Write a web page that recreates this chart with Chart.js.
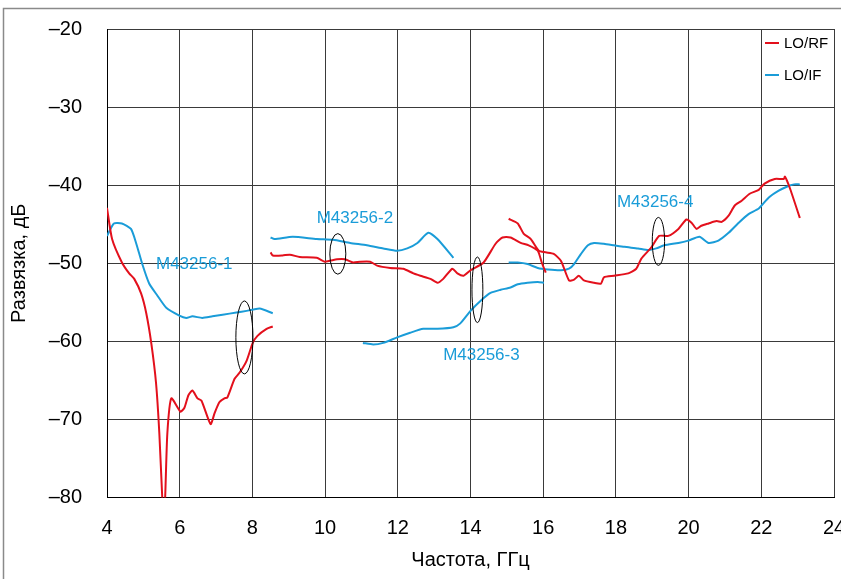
<!DOCTYPE html>
<html>
<head>
<meta charset="utf-8">
<script src="https://cdn.jsdelivr.net/npm/chart.js@4.4.0/dist/chart.umd.min.js"></script>
<style>
  html, body { margin: 0; padding: 0; background: #fff; }
</style>
</head>
<body>
<canvas id="c" width="841" height="579"></canvas>
<script>
// values
const RED = '#e3101c';
const BLUE = '#1a9cd8';

const xTicks = [4, 6, 8, 10, 12, 14, 16, 18, 20, 22, 24];
const yTicks = [-80, -70, -60, -50, -40, -30, -20];

// LO/RF, three pieces
const rf1X = [4.0, 4.14, 4.41, 4.61, 4.75, 4.94, 5.08, 5.22, 5.35, 5.44, 5.52, 5.56, 5.60, 5.66, 5.77, 6.02, 6.13, 6.24, 6.35, 6.49, 6.60, 6.85, 6.96, 7.09, 7.23, 7.31, 7.51, 7.65, 7.84, 8.01, 8.14, 8.39, 8.56];
const rf1Y = [-42.9, -46.9, -49.9, -51.3, -52.0, -53.9, -56.4, -60.3, -65.4, -71.8, -80, -83, -80, -71.8, -67.3, -69.0, -68.5, -66.9, -66.3, -67.3, -67.6, -70.6, -69.2, -67.8, -67.3, -67.2, -64.8, -64.0, -62.5, -60.2, -59.3, -58.4, -58.1];
const rf2X = [8.50, 8.56, 8.83, 9.03, 9.30, 9.77, 9.99, 10.33, 10.55, 10.77, 10.96, 11.24, 11.43, 11.79, 12.15, 12.43, 12.62, 12.90, 13.09, 13.25, 13.50, 13.64, 13.81, 14.0, 14.36, 14.69, 14.88, 15.10, 15.38, 15.60, 15.85, 15.96, 16.07];
const rf2Y = [-48.6, -49.0, -49.0, -48.9, -49.2, -49.3, -49.8, -49.5, -49.5, -49.9, -49.8, -49.8, -50.3, -50.6, -50.7, -51.3, -51.6, -52.0, -52.5, -52.0, -50.7, -51.3, -51.6, -50.9, -49.9, -47.5, -46.7, -46.7, -47.4, -47.7, -48.4, -49.9, -51.2];
const rf3X = [15.05, 15.30, 15.46, 15.66, 15.88, 16.07, 16.29, 16.49, 16.71, 16.85, 16.98, 17.12, 17.40, 17.59, 17.67, 17.95, 18.34, 18.56, 18.70, 18.97, 19.19, 19.44, 19.72, 19.94, 20.08, 20.22, 20.35, 20.55, 20.77, 20.91, 21.10, 21.27, 21.46, 21.68, 21.93, 22.09, 22.37, 22.62, 22.65, 22.78, 23.06];
const rf3Y = [-44.3, -44.9, -46.2, -46.9, -48.4, -48.6, -48.8, -49.7, -52.2, -52.1, -51.6, -52.2, -52.5, -52.6, -51.8, -51.6, -51.3, -50.7, -49.4, -48.0, -46.5, -46.5, -45.6, -44.4, -44.8, -45.6, -45.2, -44.9, -44.6, -44.7, -43.9, -42.6, -42.0, -41.1, -40.6, -39.8, -39.2, -39.2, -38.9, -40.3, -44.2];

// LO/IF, four pieces
const if1X = [4.0, 4.19, 4.41, 4.66, 4.80, 4.97, 5.16, 5.38, 5.63, 5.99, 6.18, 6.35, 6.62, 6.90, 7.18, 7.56, 7.84, 8.20, 8.56];
const if1Y = [-46.5, -44.9, -44.9, -45.6, -47.4, -50.1, -52.6, -54.1, -55.7, -56.7, -57.0, -56.8, -57.0, -56.8, -56.6, -56.3, -56.1, -55.8, -56.4];
const if2X = [8.50, 8.61, 9.11, 9.77, 10.22, 10.69, 11.15, 11.60, 11.98, 12.26, 12.54, 12.84, 13.09, 13.53];
const if2Y = [-46.7, -46.9, -46.6, -46.9, -47.0, -47.4, -47.7, -48.1, -48.4, -48.1, -47.4, -46.1, -46.9, -49.3];
const if3X = [11.04, 11.32, 11.60, 11.98, 12.34, 12.70, 13.09, 13.53, 13.72, 14.0, 14.28, 14.55, 14.83, 15.10, 15.30, 15.57, 15.85, 16.02];
const if3Y = [-60.2, -60.4, -60.2, -59.5, -58.9, -58.4, -58.4, -58.2, -57.7, -56.1, -54.8, -53.8, -53.4, -53.1, -52.7, -52.5, -52.4, -52.5];
const if4X = [15.05, 15.30, 15.57, 15.85, 16.13, 16.49, 16.71, 16.85, 17.04, 17.23, 17.40, 17.67, 17.95, 18.23, 18.61, 18.89, 19.11, 19.33, 19.72, 19.99, 20.30, 20.55, 20.82, 21.10, 21.38, 21.65, 21.93, 22.20, 22.48, 22.70, 22.90, 23.06];
const if4Y = [-49.9, -49.9, -50.1, -50.6, -50.8, -50.9, -50.7, -50.1, -48.8, -47.7, -47.4, -47.5, -47.7, -47.9, -48.1, -48.3, -48.1, -47.7, -47.4, -47.1, -46.6, -47.4, -47.1, -46.1, -44.8, -43.7, -43.0, -41.6, -40.7, -40.2, -39.9, -39.9];

// notes and ellipses (data units)
const noteText = ['M43256-1', 'M43256-2', 'M43256-3', 'M43256-4'];
const noteX = [6.40, 10.82, 14.30, 19.08];
const noteY = [-50.2, -44.3, -61.8, -42.25];
const ellX = [7.78, 10.35, 14.19, 19.17];
const ellY = [-59.5, -48.8, -53.4, -47.2];
const ellRx = [0.235, 0.22, 0.15, 0.17];
const ellRy = [4.67, 2.6, 4.2, 3.07];

function joinPieces(xs, ys) {
  var pts = [];
  for (var i = 0; i < xs.length; i++) {
    if (i > 0) pts.push({x: xs[i][0], y: null});
    for (var j = 0; j < xs[i].length; j++)
      pts.push({x: xs[i][j], y: ys[i][j]});
  }
  return pts;
}

const FONT = 'Liberation Sans, Arial, sans-serif';

const framePlugin = {
  id: 'frame',
  beforeDraw(chart) {
    var c = chart.ctx;
    c.save();
    c.fillStyle = '#fff';
    c.fillRect(0, 0, chart.width, chart.height);
    c.strokeStyle = '#8a8a8a';
    c.lineWidth = 1.5;
    c.strokeRect(3.5, 8.5, chart.width + 20, chart.height + 20);
    c.restore();
  }
};

const notesPlugin = {
  id: 'notes',
  afterDatasetsDraw(chart) {
    var c = chart.ctx, xs = chart.scales.x, ys = chart.scales.y;
    c.save();
    // ellipses
    c.strokeStyle = '#000';
    c.lineWidth = 1;
    for (var i = 0; i < ellX.length; i++) {
      var cx = xs.getPixelForValue(ellX[i]), cy = ys.getPixelForValue(ellY[i]);
      var rx = Math.abs(xs.getPixelForValue(ellX[i] + ellRx[i]) - cx);
      var ry = Math.abs(ys.getPixelForValue(ellY[i] + ellRy[i]) - cy);
      c.beginPath();
      c.ellipse(cx, cy, rx, ry, 0, 0, Math.PI * 2);
      c.stroke();
    }
    // labels
    c.fillStyle = BLUE;
    c.font = '17px ' + FONT;
    c.textAlign = 'center';
    c.textBaseline = 'middle';
    for (var k = 0; k < noteText.length; k++)
      c.fillText(noteText[k], xs.getPixelForValue(noteX[k]), ys.getPixelForValue(noteY[k]));
    // legend in the top right cell
    var ly = [43, 75];
    c.font = '15px ' + FONT;
    c.textAlign = 'left';
    chart.data.datasets.forEach(function(ds, n) {
      c.strokeStyle = ds.borderColor;
      c.lineWidth = 2;
      c.beginPath();
      c.moveTo(765, ly[n]);
      c.lineTo(779, ly[n]);
      c.stroke();
      c.fillStyle = '#000';
      c.fillText(ds.label, 784, ly[n] + 1);
    });
    c.restore();
  }
};

var ctx = document.getElementById('c').getContext('2d');
var myChart = new Chart(ctx, {
  type: 'line',
  data: {
    datasets: [
      {
        label: 'LO/RF',
        data: joinPieces([rf1X, rf2X, rf3X], [rf1Y, rf2Y, rf3Y]),
        borderColor: RED, borderWidth: 2, pointRadius: 0, tension: 0.2, spanGaps: false, clip: 0
      },
      {
        label: 'LO/IF',
        data: joinPieces([if1X, if2X, if3X, if4X], [if1Y, if2Y, if3Y, if4Y]),
        borderColor: BLUE, borderWidth: 2, pointRadius: 0, tension: 0.2, spanGaps: false, clip: 0
      }
    ]
  },
  options: {
    responsive: false,
    animation: false,
    layout: { padding: { left: 0, right: 7, top: 29, bottom: 0 } },
    plugins: { legend: { display: false }, tooltip: { enabled: false } },
    scales: {
      x: {
        type: 'linear', min: 4, max: 24,
        afterBuildTicks: function(s) { s.ticks = xTicks.map(function(v) { return {value: v}; }); },
        ticks: { color: '#000', font: { size: 20, family: FONT }, padding: 19, maxRotation: 0, autoSkip: false },
        grid: { color: '#3a3a3a', lineWidth: 1, drawTicks: false },
        border: { color: '#000', width: 1 },
        title: { display: true, text: 'Частота, ГГц', color: '#000', font: { size: 20, family: FONT }, padding: { top: 0, bottom: 7 } },
        afterFit: function(s) { s.height = 81.5; s.paddingLeft = 0; s.paddingRight = 0; }
      },
      y: {
        type: 'linear', min: -80, max: -20,
        afterBuildTicks: function(s) { s.ticks = yTicks.map(function(v) { return {value: v}; }); },
        ticks: {
          color: '#000', font: { size: 20, family: FONT }, padding: 25,
          callback: function(v) { return String(v).replace('-', '\u2013'); }
        },
        grid: { color: '#3a3a3a', lineWidth: 1, drawTicks: false },
        border: { color: '#000', width: 1 },
        title: { display: true, text: 'Развязка, дБ', color: '#000', font: { size: 20, family: FONT }, padding: { top: 7, bottom: 0 } },
        afterFit: function(s) { s.width = 107; s.paddingTop = 0; s.paddingBottom = 0; }
      }
    }
  },
  plugins: [framePlugin, notesPlugin]
});
</script>
</body>
</html>
